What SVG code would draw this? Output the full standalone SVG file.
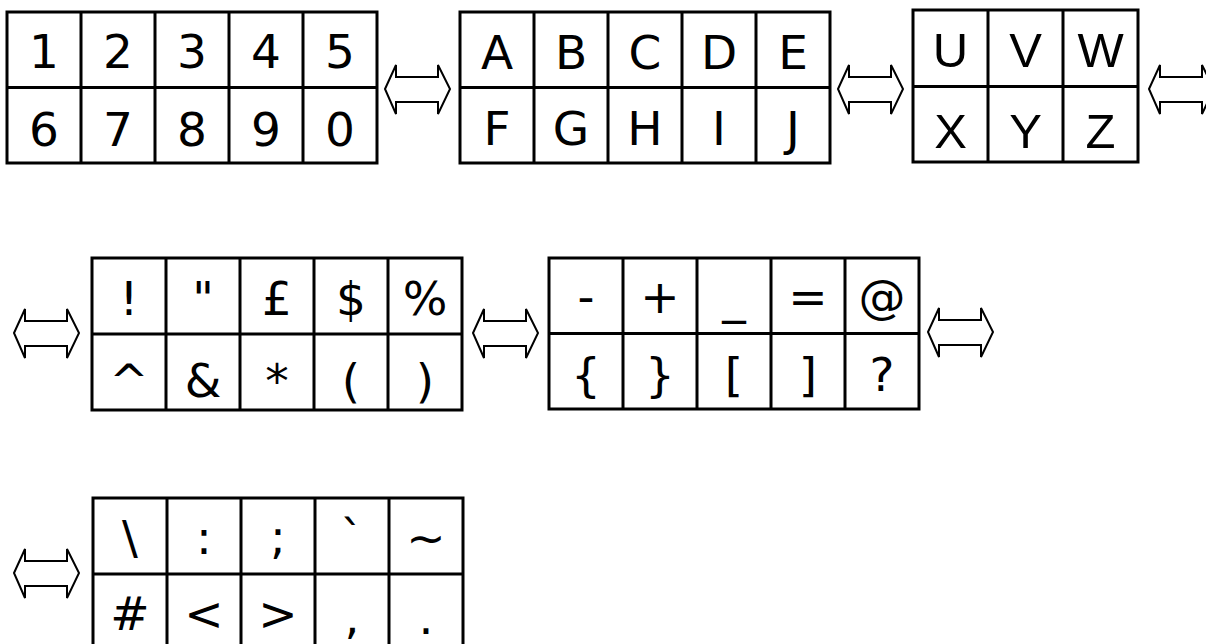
<svg xmlns="http://www.w3.org/2000/svg" xmlns:xlink="http://www.w3.org/1999/xlink" width="1206" height="644" viewBox="0 0 1206 644">
<style>
.grid{fill:none;stroke:#000;stroke-width:3}
.arrow{fill:#fff;stroke:#000;stroke-width:2;stroke-linejoin:miter}
.v{font-family:"DejaVu Sans",Verdana,sans-serif;font-size:47px;text-anchor:middle;fill:#000}
.a{font-family:"Liberation Sans",Arial,sans-serif;font-size:49px;text-anchor:middle;fill:#000}
</style>
<defs>
<path id="dbl" class="arrow" d="M0,0 L11,-24 L11,-12 L53,-12 L53,-24 L65,0 L53,25 L53,13 L11,13 L11,25 Z"/>
</defs>
<rect width="1206" height="644" fill="#fff"/>
<g id="connectors">
<use xlink:href="#dbl" x="385" y="89"/>
<use xlink:href="#dbl" x="838" y="89"/>
<use xlink:href="#dbl" x="1149" y="89"/>
<use xlink:href="#dbl" x="14" y="333"/>
<use xlink:href="#dbl" x="473" y="333"/>
<use xlink:href="#dbl" x="928" y="332"/>
<use xlink:href="#dbl" x="14" y="573"/>
</g>
<g id="digits">
<path class="grid" d="M7,12H377V163H7Z M7,87.5H377 M81,12V163 M155,12V163 M229,12V163 M303,12V163"/>
<text class="v" x="44" y="68">1</text><text class="v" x="118" y="68">2</text><text class="v" x="192" y="68">3</text><text class="v" x="266" y="68">4</text><text class="v" x="340" y="68">5</text>
<text class="v" x="44" y="146">6</text><text class="v" x="118" y="146">7</text><text class="v" x="192" y="146">8</text><text class="v" x="266" y="146">9</text><text class="v" x="340" y="146">0</text>
</g>
<g id="letters-a-j">
<path class="grid" d="M460,12H830V163H460Z M460,87.5H830 M534,12V163 M608,12V163 M682,12V163 M756,12V163"/>
<text class="v" x="497" y="69">A</text><text class="v" x="571" y="69">B</text><text class="v" x="645" y="69">C</text><text class="v" x="719" y="69">D</text><text class="v" x="793" y="69">E</text>
<text class="v" x="497" y="145">F</text><text class="v" x="571" y="145">G</text><text class="v" x="645" y="145">H</text><text class="v" x="719" y="145">I</text><text class="v" x="793" y="145">J</text>
</g>
<g id="letters-u-z">
<path class="grid" d="M913,10H1138V162H913Z M913,86.5H1138 M988,10V162 M1063,10V162"/>
<text class="a" x="950.5" y="67">U</text><text class="a" x="1025.5" y="67">V</text><text class="a" x="1100.5" y="67">W</text>
<text class="a" x="950.5" y="148">X</text><text class="a" x="1025.5" y="148">Y</text><text class="a" x="1100.5" y="148">Z</text>
</g>
<g id="symbols-1">
<path class="grid" d="M92,258H462V410H92Z M92,334H462 M166,258V410 M240,258V410 M314,258V410 M388,258V410"/>
<text class="v" x="129" y="315">!</text><text class="v" x="203" y="315">"</text><text class="v" x="277" y="315">£</text><text class="v" x="351" y="315">$</text><text class="v" x="425" y="315">%</text>
<text class="v" x="129" y="397">^</text><text class="v" x="203" y="397">&amp;</text><text class="v" x="277" y="397">*</text><text class="v" x="351" y="397">(</text><text class="v" x="425" y="397">)</text>
</g>
<g id="symbols-2">
<path class="grid" d="M549,258H919V409H549Z M549,333.5H919 M623,258V409 M697,258V409 M771,258V409 M845,258V409"/>
<text class="v" x="586" y="313">-</text><text class="v" x="660" y="313">+</text><text class="v" x="734" y="313">_</text><text class="v" x="808" y="313">=</text><text class="v" x="882" y="313">@</text>
<text class="v" x="586" y="391">{</text><text class="v" x="660" y="391">}</text><text class="v" x="734" y="391">[</text><text class="v" x="808" y="391">]</text><text class="v" x="882" y="391">?</text>
</g>
<g id="symbols-3">
<path class="grid" d="M93,498H463V652H93Z M93,574H463 M167,498V652 M241,498V652 M315,498V652 M389,498V652"/>
<text class="v" x="130" y="554">\</text><text class="v" x="204" y="554">:</text><text class="v" x="278" y="554">;</text><text class="v" x="352" y="554">`</text><text class="v" x="426" y="554">~</text>
<text class="v" x="130" y="630">#</text><text class="v" x="204" y="630">&lt;</text><text class="v" x="278" y="630">&gt;</text><text class="v" x="352" y="634">,</text><text class="v" x="426" y="634">.</text>
</g>
</svg>
